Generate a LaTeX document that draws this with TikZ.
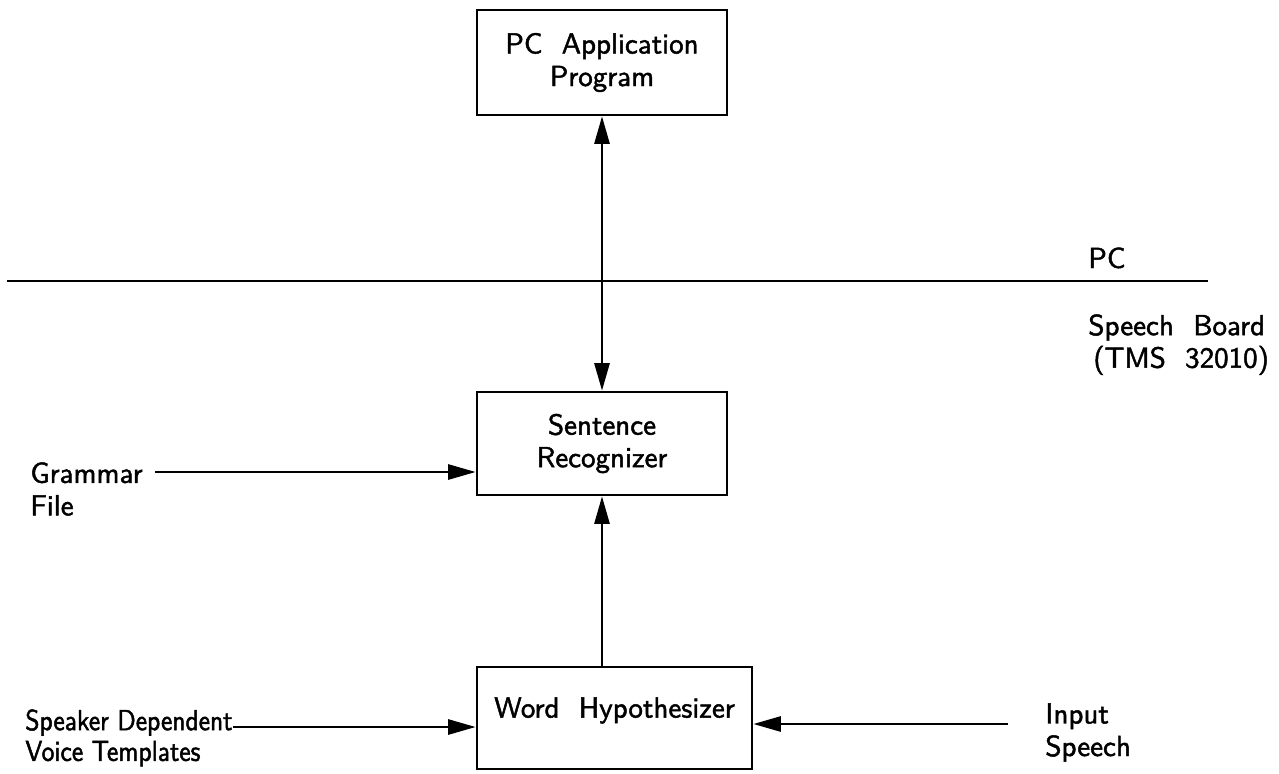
\documentclass[tikz,border=0pt]{standalone}
\usepackage{fontspec}
\newfontfamily\diagfont{lmsans10-regular}[Extension=.otf,FakeBold=1.6]
\newfontfamily\diagfontn{lmsans10-regular}[Extension=.otf,FakeBold=1.6,FakeStretch=0.88]
\usetikzlibrary{arrows.meta}
\tikzset{
  blk/.style={draw,line width=1.5pt,minimum width=5cm,minimum height=2.1cm,align=center,font=\diagfont\fontsize{16.5}{18.5}\selectfont},
  lbl/.style={inner sep=0pt,align=left,font=\diagfont\fontsize{16.5}{18.5}\selectfont},
  arr/.style={line width=1.5pt,-{Triangle[length=5.5mm,width=3mm]}},
  darr/.style={line width=1.5pt,{Triangle[length=5.5mm,width=3mm]}-{Triangle[length=5.5mm,width=3mm]}}
}
\begin{document}
\begin{tikzpicture}
      \useasboundingbox (0,0) rectangle (25.58,-15.46);

      \node[blk] (app) at (12.04,-1.25) {PC~~Application\\Program};
      \node[blk,minimum height=2.06cm] (sent) at (12.04,-8.87) {Sentence\\Recognizer};
      \node[blk,minimum width=5.5cm,minimum height=2.04cm,text depth=0.42cm] (word) at (12.29,-14.36) {Word~~Hypothesizer};

      \coordinate (pcl) at (0.14,-5.62);
      \coordinate (pcr) at (24.16,-5.62);
      \draw[line width=1.5pt] (pcl) -- (pcr);
      \node[lbl,anchor=base west] (pc) at (21.76,-5.36) {PC};
      \node[lbl,anchor=north west] (board) at (21.76,-6.28) {Speech~~Board\\\hspace{0.1cm}(TMS~~32010)};

      \node[lbl,anchor=north west] (gram) at (0.6,-9.24) {Grammar\\File};
      \node[lbl,anchor=north west,font=\diagfontn\fontsize{16.5}{17.5}\selectfont] (spk) at (0.5,-14.18) {Speaker Dependent\\Voice Templates};
      \node[lbl,anchor=north west] (inp) at (20.9,-14.06) {Input\\Speech};

      \coordinate (gs) at (3.1,-9.44);
      \coordinate (ss) at (4.65,-14.54);
      \coordinate (is) at (20.16,-14.48);

      \draw[darr] (app.south) -- (sent.north);
      \draw[arr] (word.north -| sent.south) -- (sent.south);
      \draw[arr] (gs) -- (gs -| sent.west);
      \draw[arr] (ss) -- (ss -| word.west);
      \draw[arr] (is) -- (is -| word.east);
    \end{tikzpicture}
\end{document}
